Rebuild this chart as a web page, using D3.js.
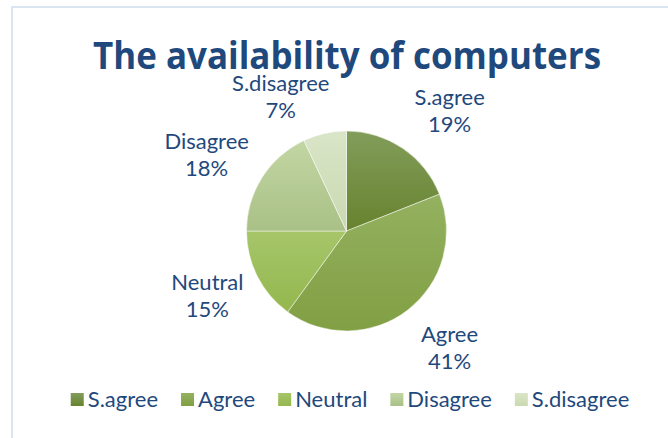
<!DOCTYPE html>
<html>
<head>
<meta charset="utf-8">
<script src="https://cdn.jsdelivr.net/npm/d3@7/dist/d3.min.js"></script>
<style>
  html, body { margin: 0; padding: 0; background: #ffffff; }
  svg { display: block; }
</style>
</head>
<body>
<script>
// Survey responses: "The availability of computers"
const categories = ["S.agree", "Agree", "Neutral", "Disagree", "S.disagree"];
const values = [19, 41, 15, 18, 7];
const titleText = "The availability of computers";

// Slice fills: lighter top stop, darker bottom stop
const topColors = ["#829d5a", "#94b160", "#a6c66a", "#c2d6a3", "#d9e5c7"];
const bottomColors = ["#67832f", "#819f43", "#94b74e", "#a9c086", "#cad9b1"];

// Layout
const W = 668, H = 438;
const cx = 346.5, cy = 231, R = 100;
const textColor = "#1f497d";
const font = "Lato, 'Open Sans', sans-serif";
const fs = 22;
// small offsets applied to the computed label anchors (outside-end placement)
const labelNudge = {"S.agree": [16, 8], "Agree": [8, -6], "Neutral": [-1, -6], "Disagree": [-9, 7], "S.disagree": [-32, 17]};

const svg = d3.select("body").append("svg")
  .attr("width", W).attr("height", H);

// chart frame
svg.append("rect")
  .attr("x", 12).attr("y", 7)
  .attr("width", W + 20).attr("height", H + 20)
  .attr("fill", "#ffffff")
  .attr("stroke", "#dae5f2")
  .attr("stroke-width", 2);

// title
svg.append("text")
  .attr("x", 347).attr("y", 69)
  .attr("text-anchor", "middle")
  .attr("font-family", "'Open Sans', Lato, sans-serif")
  .attr("font-weight", 700)
  .attr("font-size", 37)
  .attr("fill", textColor)
  .attr("textLength", 508)
  .attr("lengthAdjust", "spacingAndGlyphs")
  .text(titleText);

const color = d3.scaleOrdinal().domain(categories).range(d3.range(categories.length));

const defs = svg.append("defs");
categories.forEach((c, i) => {
  const g = defs.append("linearGradient")
    .attr("id", "grad" + i)
    .attr("x1", 0).attr("y1", 0).attr("x2", 0).attr("y2", 1);
  g.append("stop").attr("offset", "0%").attr("stop-color", topColors[i]);
  g.append("stop").attr("offset", "100%").attr("stop-color", bottomColors[i]);
});

const data = categories.map((c, i) => ({ name: c, value: values[i] }));
const pie = d3.pie().value(d => d.value).sort(null);
const arcs = pie(data);
const arc = d3.arc().innerRadius(0).outerRadius(R);
const labelArc = d3.arc().innerRadius(R * 1.55).outerRadius(R * 1.55);

const gPie = svg.append("g").attr("transform", `translate(${cx},${cy})`);
gPie.selectAll("path")
  .data(arcs)
  .join("path")
  .attr("d", arc)
  .attr("fill", d => `url(#grad${color(d.data.name)})`)
  .attr("stroke", "#ffffff")
  .attr("stroke-opacity", 0.6)
  .attr("stroke-width", 0.8);

// data labels: category name and percentage
const total = d3.sum(values);
const labels = gPie.selectAll("g.lbl")
  .data(arcs)
  .join("g")
  .attr("class", "lbl")
  .attr("transform", d => {
    const [x, y] = labelArc.centroid(d);
    const n = labelNudge[d.data.name];
    return `translate(${x + n[0]},${y + n[1]})`;
  });
labels.append("text")
  .attr("text-anchor", "middle")
  .attr("y", -5.5)
  .attr("font-family", font)
  .attr("font-size", fs)
  .attr("fill", textColor)
  .text(d => d.data.name);
labels.append("text")
  .attr("text-anchor", "middle")
  .attr("y", 21.5)
  .attr("font-family", font)
  .attr("font-size", fs)
  .attr("fill", textColor)
  .text(d => Math.round(d.data.value / total * 100) + "%");

// legend
const legend = svg.append("g");
const items = legend.selectAll("g").data(categories).join("g");
items.append("rect")
  .attr("width", 13).attr("height", 13)
  .attr("y", -14)
  .attr("fill", (d, i) => `url(#grad${i})`);
items.append("text")
  .attr("x", 17)
  .attr("font-family", font)
  .attr("font-size", fs)
  .attr("fill", textColor)
  .text(d => d);
let xpos = 0;
const gap = 23;
items.each(function() {
  const w = 17 + this.querySelector("text").getComputedTextLength();
  d3.select(this).attr("transform", `translate(${xpos},0)`);
  xpos += w + gap;
});
const legendWidth = xpos - gap;
legend.attr("transform", `translate(${350 - legendWidth / 2},407)`);
</script>
</body>
</html>
